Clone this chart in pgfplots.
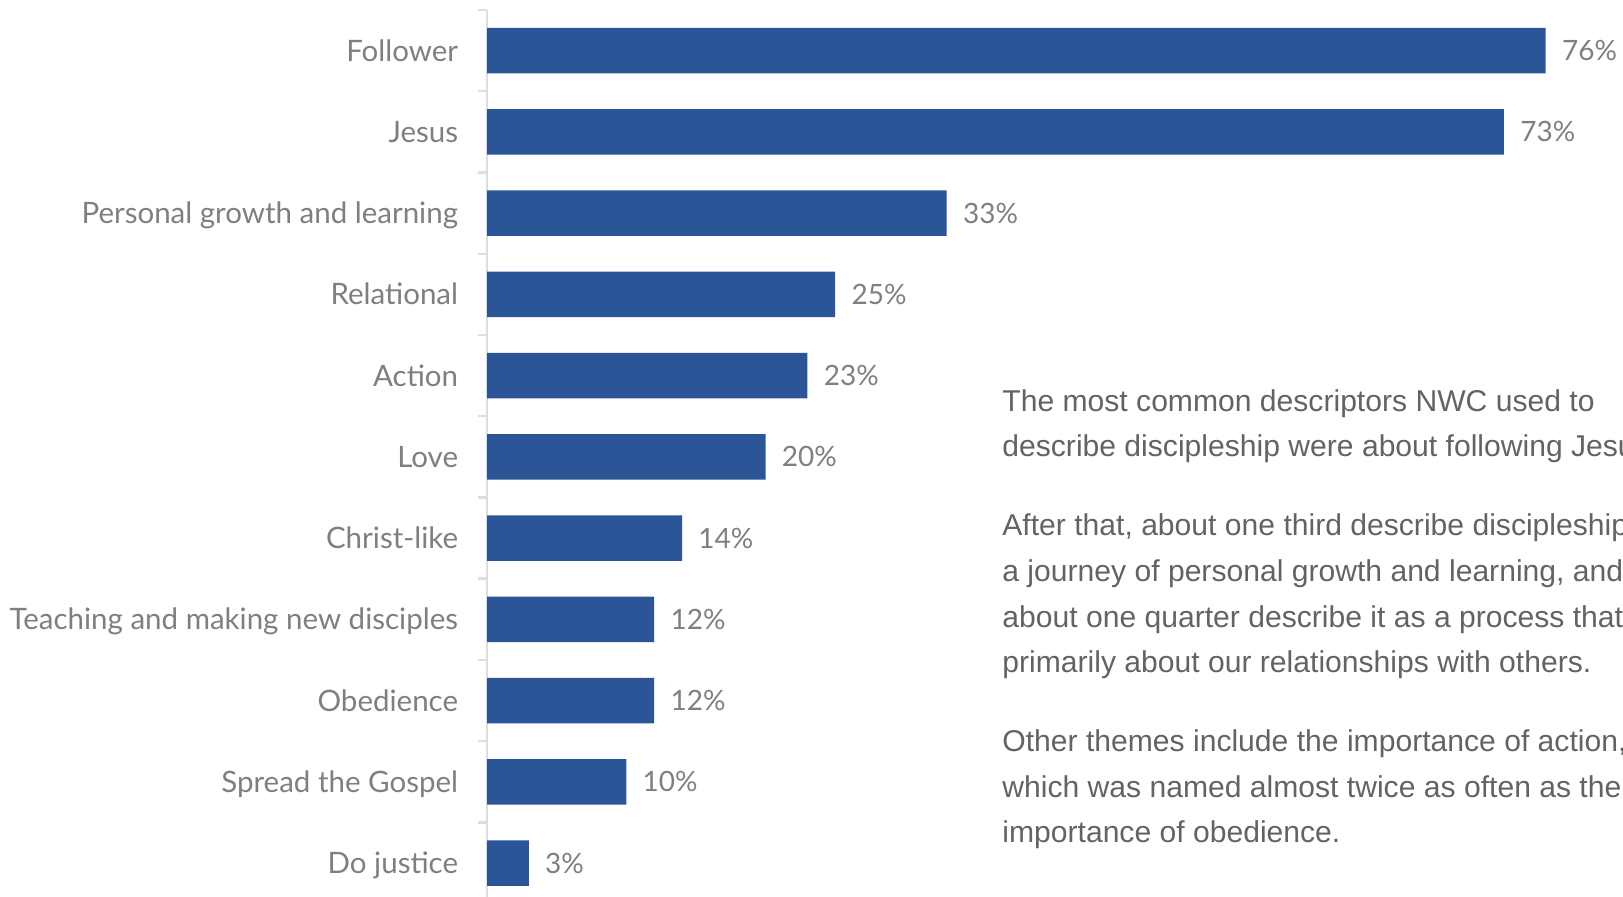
\documentclass[border=0pt]{standalone}
\usepackage{fontspec}
\setmainfont{Lato}
\newfontfamily\parafont{Liberation Sans}
\usepackage{pgfplots}
\pgfplotsset{compat=1.18}
\definecolor{barblue}{HTML}{2B5597}
\definecolor{lblgray}{HTML}{7F7F7F}
\definecolor{paragray}{HTML}{636363}
\definecolor{axgray}{HTML}{DDDDDD}
\begin{document}
\begin{tikzpicture}
\begin{axis}[
  at={(243.5pt,-5pt)}, anchor=north west,
  scale only axis, width=557.2pt, height=446.8pt,
  xmin=0, xmax=80, ymin=-0.5, ymax=10.5, y dir=reverse,
  xbar, bar width=0.56, bar shift=0pt,
  axis x line=none, axis y line*=left,
  axis line style={-, axgray, line width=1.2pt},
  xtick=\empty,
  ytick={0,...,10},
  yticklabels={Follower,Jesus,Personal growth and learning,Relational,Action,Love,Christ-like,Teaching and making new disciples,Obedience,Spread the Gospel,Do justice},
  major tick length=0pt,
  minor ytick={-0.5,0.5,...,10.5},
  minor tick length=4.5pt,
  tick align=outside,
  minor tick style={axgray, line width=1.2pt},
  /pgf/number format/assume math mode=true,
  yticklabel style={font=\fontsize{14.75pt}{18pt}\selectfont, text=lblgray, anchor=east, inner sep=0pt, xshift=-14.25pt, text height=10.6pt, text depth=0pt},
  point meta=x,
  nodes near coords={\pgfmathprintnumber[assume math mode=true]{\pgfplotspointmeta}\%},
  nodes near coords style={font=\fontsize{14pt}{18pt}\selectfont, text=lblgray, anchor=west, inner sep=0pt, xshift=8pt, text height=10.1pt, text depth=0pt},
  clip=false,
]
\addplot[fill=barblue, draw=none] coordinates {(76,0) (73,1) (33,2) (25,3) (23,4) (20,5) (14,6) (12,7) (12,8) (10,9) (3,10)};
\end{axis}
\begin{scope}[every node/.style={anchor=base west, inner sep=0pt, text=paragray, font=\parafont\fontsize{15.05pt}{18pt}\selectfont}]
\node at (501pt,-205.6pt) {The most common descriptors NWC used to};
\node at (501pt,-228.4pt) {describe discipleship were about following Jesus.};
\node at (501pt,-267.9pt) {After that, about one third describe discipleship as};
\node at (501pt,-290.7pt) {a journey of personal growth and learning, and};
\node at (501pt,-313.5pt) {about one quarter describe it as a process that is};
\node at (501pt,-336.3pt) {primarily about our relationships with others.};
\node at (501pt,-375.8pt) {Other themes include the importance of action,};
\node at (501pt,-398.6pt) {which was named almost twice as often as the};
\node at (501pt,-421.4pt) {importance of obedience.};
\end{scope}
\pgfresetboundingbox
\path[use as bounding box] (0,0) rectangle (811.5pt,-448pt);
\end{tikzpicture}
\end{document}
